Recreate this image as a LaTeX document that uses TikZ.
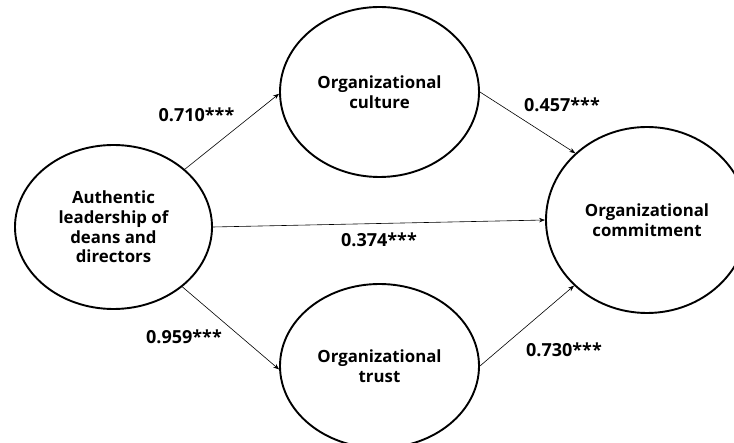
\documentclass[tikz,border=0pt]{standalone}
\usepackage{fontspec}
\setmainfont{Open Sans}
\usetikzlibrary{shapes.geometric,arrows.meta}
\tikzset{
  latent/.style={ellipse, draw, line width=1.9pt, inner sep=0pt, align=center,
    font=\fontsize{16.8}{19.6}\selectfont\bfseries},
  path/.style={line width=0.6pt, -{Stealth[length=6pt,width=4.5pt]}},
  coef/.style={font=\fontsize{18}{20}\selectfont\bfseries, inner sep=0pt}
}
\begin{document}
\begin{tikzpicture}[x=1pt,y=-1pt]
\clip (0,0) rectangle (734,443);
\fill[white] (0,0) rectangle (734,443);
\node[latent, minimum width=197pt, minimum height=164pt] (L) at (113.5,227) {Authentic\\leadership of\\deans and\\directors};
\node[latent, minimum width=199pt, minimum height=170pt] (T) at (379.5,92) {Organizational\\culture};
\node[latent, minimum width=199pt, minimum height=164pt] (B) at (379.5,366) {Organizational\\trust};
\node[latent, minimum width=202pt, minimum height=186pt] (R) at (647,220) {Organizational\\commitment};
\draw[path] (L.39.5) -- (T.181);
\draw[path] (T.east) -- (R.137.5);
\draw[path] (L.east) -- (R.west);
\draw[path] (L.-41.4) -- (B.182);
\draw[path] (B.east) -- (R.222.5);
\node[coef] (c1) at (196.5,115) {0.710***};
\node[coef] (c2) at (562,105) {0.457***};
\node[coef] (c3) at (379,240) {0.374***};
\node[coef] (c4) at (184,337) {0.959***};
\node[coef] (c5) at (564,350) {0.730***};
\end{tikzpicture}
\end{document}
